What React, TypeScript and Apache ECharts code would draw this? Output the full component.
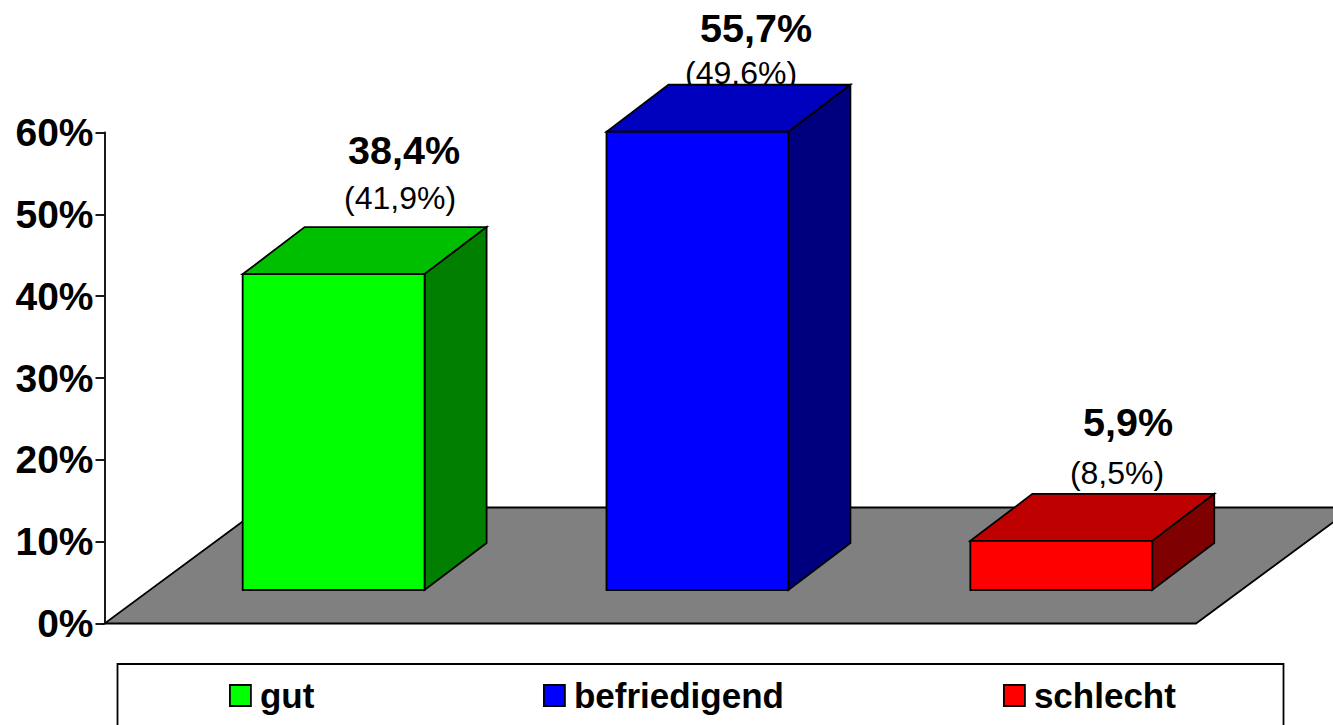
import React, { useEffect, useRef } from "react";
import * as echarts from "echarts";

const categories = ["gut", "befriedigend", "schlecht"];
// Bar heights (front face, in percent)
const gutValues = [38.6];
const befriedigendValues = [56.0];
const schlechtValues = [6.0];
const tickValues = { min: 0, max: 60, interval: 10 };
const mainLabels = ["38,4%", "55,7%", "5,9%"];
const subLabels = ["(41,9%)", "(49,6%)", "(8,5%)"];

const FONT = '"Liberation Sans", Arial, sans-serif';
const STROKE = { stroke: "#000", lineWidth: 1.8, lineJoin: "miter" as const };
const FRONT = { dx: 47.2, dy: 33.5 };
const DEPTH = { dx: 62, dy: 47 };
const FLOOR = { dx: 157, dy: 116 };

const barRenderer = (front: string, top: string, side: string) => (params: any, api: any) => {
  const idx = api.value(0);
  const p0 = api.coord([idx, 0]);
  const p1 = api.coord([idx, api.value(1)]);
  const w = api.size([1, 0])[0] * 0.5;
  const x0 = p0[0] - w / 2 + FRONT.dx;
  const x1 = x0 + w;
  const yb = p0[1] - FRONT.dy;
  const yt = p1[1] - FRONT.dy;
  const poly = (points: number[][], fill: string) => ({
    type: "polygon",
    shape: { points },
    style: { fill, ...STROKE },
  });
  return {
    type: "group",
    children: [
      poly([[x0, yt], [x1, yt], [x1 + DEPTH.dx, yt - DEPTH.dy], [x0 + DEPTH.dx, yt - DEPTH.dy]], top),
      poly([[x1, yt], [x1 + DEPTH.dx, yt - DEPTH.dy], [x1 + DEPTH.dx, yb - DEPTH.dy], [x1, yb]], side),
      poly([[x0, yt], [x1, yt], [x1, yb], [x0, yb]], front),
    ],
  };
};

const floorRenderer = (params: any, api: any) => {
  const c = params.coordSys;
  const b = c.y + c.height;
  const l = c.x;
  const r = c.x + c.width;
  return {
    type: "polygon",
    shape: { points: [[l, b], [r, b], [r + FLOOR.dx, b - FLOOR.dy], [l + FLOOR.dx, b - FLOOR.dy]] },
    style: { fill: "#808080", ...STROKE },
  };
};

const barSeries = (name: string, idx: number, values: number[], front: string, top: string, side: string) => ({
  type: "custom",
  name,
  z: 3,
  clip: false,
  renderItem: barRenderer(front, top, side),
  itemStyle: { color: front },
  encode: { x: 0, y: 1 },
  data: values.map((v) => [idx, v]),
});

const legendAt = (name: string, left: number) => ({
  data: [name],
  left,
  top: 678,
  itemWidth: 21,
  itemHeight: 21,
  icon: "rect",
  itemStyle: { borderColor: "#000", borderWidth: 1.8 },
  selectedMode: false,
  padding: 0,
  textStyle: { fontFamily: FONT, fontWeight: "bold", fontSize: 35, color: "#000", padding: [0, 0, 0, 4] },
});

const label = (text: string, x: number, y: number, bold: boolean) => ({
  type: "text",
  x,
  y,
  silent: true,
  style: {
    text,
    fill: "#000",
    textAlign: "center",
    textVerticalAlign: "middle",
    fontFamily: FONT,
    fontWeight: bold ? "bold" : "normal",
    fontSize: bold ? 39.5 : 32,
  },
});

export default function App() {
  const ref = useRef<HTMLDivElement>(null);
  useEffect(() => {
    const chart = echarts.init(ref.current!, null, { renderer: "svg" });
    chart.setOption({
      animation: false,
      backgroundColor: "#fff",
      grid: { left: 104.5, top: 132.5, width: 1091.5, height: 491, containLabel: false },
      xAxis: { type: "category", data: categories, show: false },
      yAxis: {
        type: "value",
        min: tickValues.min,
        max: tickValues.max,
        interval: tickValues.interval,
        splitLine: { show: false },
        axisLine: { show: true, lineStyle: { color: "#000", width: 1.8 } },
        axisTick: { show: true, length: 9, lineStyle: { color: "#000", width: 1.8 } },
        axisLabel: {
          margin: 11,
          color: "#000",
          fontFamily: FONT,
          fontWeight: "bold",
          fontSize: 39,
          formatter: "{value}%",
        },
      },
      legend: [legendAt("gut", 229), legendAt("befriedigend", 543), legendAt("schlecht", 1003)],
      graphic: {
        z: 10,
        elements: [
          {
            type: "rect",
            shape: { x: 117.5, y: 664, width: 1166, height: 80 },
            style: { fill: "none", ...STROKE },
            silent: true,
          },
          label(mainLabels[0], 404, 150, true),
          label(subLabels[0], 400, 197.5, false),
          label(mainLabels[1], 756, 28, true),
          label(subLabels[1], 741, 73, false),
          label(mainLabels[2], 1128, 422, true),
          label(subLabels[2], 1117, 472.5, false),
        ],
      },
      series: [
        {
          type: "custom",
          name: "floor",
          z: 1,
          clip: false,
          silent: true,
          renderItem: floorRenderer,
          data: [[0, 0]],
        },
        barSeries(categories[0], 0, gutValues, "#00ff00", "#00bf00", "#007f00"),
        barSeries(categories[1], 1, befriedigendValues, "#0000ff", "#0000bf", "#00007f"),
        barSeries(categories[2], 2, schlechtValues, "#ff0000", "#bf0000", "#7f0000"),
      ],
    });
    return () => chart.dispose();
  }, []);
  return <div ref={ref} style={{ position: "fixed", left: 0, top: 0, width: 1333, height: 725 }} />;
}
